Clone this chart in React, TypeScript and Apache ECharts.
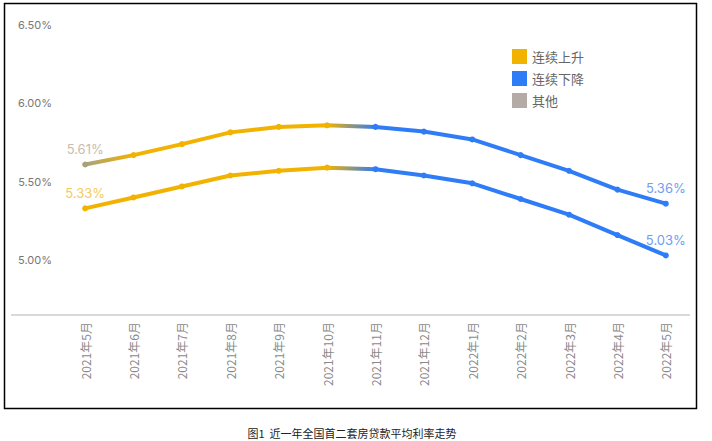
import React, { useEffect, useRef } from "react";
import * as echarts from "echarts";

const categories = [
  "2021年5月", "2021年6月", "2021年7月", "2021年8月", "2021年9月", "2021年10月", "2021年11月",
  "2021年12月", "2022年1月", "2022年2月", "2022年3月", "2022年4月", "2022年5月",
];
const firstHome = [5.61, 5.67, 5.74, 5.815, 5.85, 5.86, 5.85, 5.82, 5.77, 5.67, 5.57, 5.45, 5.36];
const secondHome = [5.33, 5.4, 5.47, 5.54, 5.57, 5.59, 5.58, 5.54, 5.49, 5.39, 5.29, 5.16, 5.03];
const yTicks = [5, 5.5, 6, 6.5];
const legendNames = ["连续上升", "连续下降", "其他"];
const title = "图1  近一年全国首二套房贷款平均利率走势";

const YELLOW = "#F2B200";
const BLUE = "#2E7CF6";
const OTHER = "#B5ABA6";
const OLIVE = "#A8A27C";

export default function App() {
  const ref = useRef<HTMLDivElement>(null);
  useEffect(() => {
    if (!ref.current) return;
    const chart = echarts.init(ref.current, undefined, { renderer: "svg" });
    const n = categories.length - 1;
    const mkData = (vals: number[], firstColor: string, firstLabelColor: string, lastLabelColor: string) =>
      vals.map((v, i) => {
        const c = i === 0 ? firstColor : i <= 5 ? YELLOW : BLUE;
        const item: any = { value: v, itemStyle: { color: c } };
        if (i === 0 || i === n) {
          item.label = {
            show: true,
            position: "top",
            distance: 6,
            color: i === 0 ? firstLabelColor : lastLabelColor,
            fontSize: 13,
            fontFamily: "Inter, sans-serif",
            formatter: (p: any) => p.value.toFixed(2) + "%",
          };
        }
        return item;
      });
    const upperGrad = new echarts.graphic.LinearGradient(0, 0, 1, 0, [
      { offset: 0, color: OLIVE },
      { offset: 1 / n, color: YELLOW },
      { offset: 5 / n, color: YELLOW },
      { offset: 6 / n, color: BLUE },
      { offset: 1, color: BLUE },
    ]);
    const lowerGrad = new echarts.graphic.LinearGradient(0, 0, 1, 0, [
      { offset: 0, color: YELLOW },
      { offset: 5 / n, color: YELLOW },
      { offset: 6 / n, color: BLUE },
      { offset: 1, color: BLUE },
    ]);
    chart.setOption({
      animation: false,
      grid: { left: 61, right: 22, top: 25, bottom: 126 },
      legend: {
        data: legendNames,
        orient: "vertical",
        left: 507,
        top: 44,
        icon: "rect",
        itemWidth: 15,
        itemHeight: 15,
        itemGap: 7,
        textStyle: { fontSize: 13, color: "#666", fontFamily: "Noto Sans CJK SC" },
      },
      xAxis: {
        type: "category",
        data: categories,
        boundaryGap: true,
        axisLine: { show: false },
        axisTick: { show: false },
        axisLabel: { rotate: 90, color: "#8a8a8a", fontSize: 12, margin: 7, interval: 0, fontFamily: "Noto Sans CJK SC" },
      },
      yAxis: {
        type: "value",
        min: 4.65,
        max: 6.5,
        splitLine: { show: false },
        axisLine: { show: false },
        axisTick: { show: false },
        axisLabel: {
          customValues: yTicks,
          color: "#777",
          fontSize: 11,
          margin: 9,
          fontFamily: "Inter, sans-serif",
          formatter: (v: number) => v.toFixed(2) + "%",
        },
      },
      series: [
        { name: legendNames[0], type: "line", data: [], itemStyle: { color: YELLOW } },
        { name: legendNames[1], type: "line", data: [], itemStyle: { color: BLUE } },
        { name: legendNames[2], type: "line", data: [], itemStyle: { color: OTHER } },
        {
          name: "首套",
          type: "line",
          data: mkData(firstHome, OLIVE, "#C8BCAE", "#6F9EF2"),
          symbol: "circle",
          symbolSize: 6,
          lineStyle: { width: 4, color: upperGrad },
          z: 3,
        },
        {
          name: "二套",
          type: "line",
          data: mkData(secondHome, YELLOW, "#F5CB5E", "#6F9EF2"),
          symbol: "circle",
          symbolSize: 6,
          lineStyle: { width: 4, color: lowerGrad },
          z: 3,
        },
      ],
      graphic: [
        {
          type: "rect",
          shape: { x: 4.5, y: 3.5, width: 692, height: 405 },
          style: { fill: "none", stroke: "#000", lineWidth: 1.5 },
          silent: true,
        },
        {
          type: "line",
          shape: { x1: 11, y1: 315, x2: 690, y2: 315 },
          style: { stroke: "#d9d9d9", lineWidth: 2 },
          silent: true,
        },
        {
          type: "text",
          x: 352,
          y: 433,
          style: {
            text: title,
            fill: "#222",
            fontSize: 11,
            fontFamily: "Noto Sans CJK SC",
            textAlign: "center",
            textVerticalAlign: "middle",
          },
        },
      ],
    });
    return () => chart.dispose();
  }, []);
  return (
    <div
      ref={ref}
      style={{ position: "fixed", left: 0, top: 0, width: 712, height: 441, background: "#fff" }}
    />
  );
}
